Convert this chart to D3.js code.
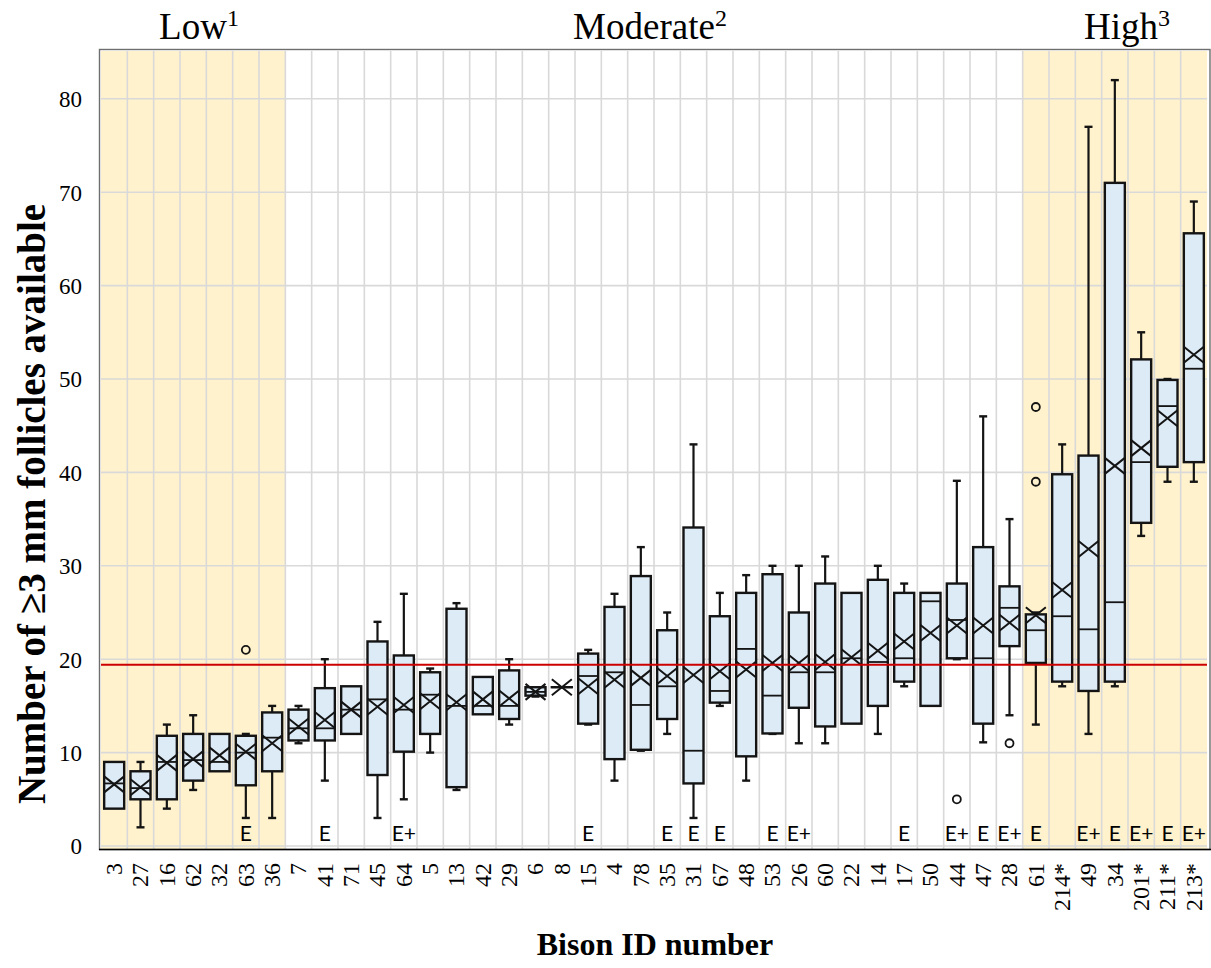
<!DOCTYPE html>
<html>
<head>
<meta charset="utf-8">
<script src="https://cdn.jsdelivr.net/npm/d3@7"></script>
<style>
  html, body { margin: 0; padding: 0; background: #ffffff; }
  svg { display: block; }
</style>
</head>
<body>
<svg id="chart" width="1211" height="968"></svg>
<script>
// ---------- DATA ----------
const categories = ["3","27","16","62","32","63","36","7","41","71","45","64","5","13","42","29","6","8","15","4","78","35","31","67","48","53","26","60","22","14","17","50","44","47","28","61","214*","49","34","201*","211*","213*"];
const whiskerLow  = [4, 2, 4, 6, 8, 3, 3, 11, 7, 12, 3, 5, 10, 6, 14.1, 13, 16, 17, 13, 7, 10.2, 12, 3, 15, 7, 12, 11, 11, 13.1, 12, 17.1, 15, 20, 11.1, 14, 13, 17.1, 12, 17.1, 33.2, 39, 39];
const q1          = [4, 5, 5, 7, 8, 6.5, 8, 11.3, 11.3, 12, 7.6, 10.1, 12, 6.3, 14.1, 13.6, 16.1, 17, 13.1, 9.3, 10.3, 13.6, 6.7, 15.35, 9.6, 12.05, 14.8, 12.8, 13.1, 15, 17.6, 15, 20.1, 13.1, 21.4, 19.6, 17.6, 16.6, 17.6, 34.6, 40.6, 41.1];
const medians     = [6.7, 6.2, 9, 9.2, 9.0, 10, 11.6, 12.6, 12.6, 14.6, 15.7, 14.6, 16.2, 15, 15, 15, 16.5, 17, 18.2, 18.6, 15.1, 17.1, 10.2, 16.6, 21.1, 16.1, 18.6, 18.6, 20.1, 19.7, 20.1, 26.2, 24.2, 20.1, 25.5, 23.1, 24.6, 23.2, 26.1, 41.1, 47.1, 51.1];
const q3          = [9, 8, 11.8, 12, 12, 11.8, 14.3, 14.6, 16.9, 17.1, 21.9, 20.4, 18.6, 25.4, 18.1, 18.8, 17, 17, 20.6, 25.6, 28.9, 23.1, 34.1, 24.6, 27.1, 29.1, 25, 28.1, 27.1, 28.5, 27.1, 27.1, 28.1, 32, 27.8, 24.8, 39.8, 41.8, 71, 52.1, 49.9, 65.6];
const whiskerHigh = [9, 9, 13, 14, 12, 12, 15, 15, 20, 17.1, 24, 27, 19, 26, 18.1, 20, 17, 17, 21, 27, 32, 25, 43, 27.1, 29, 30, 30, 31, 27.1, 30, 28.1, 27.1, 39.1, 46, 35, 25, 43, 77, 82, 55, 50, 69];
const means       = [6.6, 6.3, 8.9, 9.3, 9.7, 10.1, 11, 12.8, 13.5, 14.6, 14.9, 15.1, 15.5, 15.4, 15.7, 15.8, 16.5, 17, 17.1, 17.8, 18, 18.2, 18.3, 18.7, 18.9, 19.6, 19.6, 19.7, 20.2, 20.9, 21.9, 22.8, 23.6, 23.6, 23.9, 24.7, 27.4, 31.8, 40.7, 42.6, 45.8, 52.6];
const outlierIds    = ["63", "44", "28", "61", "61"];
const outlierValues = [21, 5, 11, 39, 47];
const marks = ["","","","","","E","","","E","","","E+","","","","","","","E","","","E","E","E","","E","E+","","","","E","","E+","E","E+","E","","E+","E","E+","E","E+"];
const groupNames  = ["Low", "Moderate", "High"];
const groupSups   = ["1", "2", "3"];
const groupStart  = ["3", "7", "61"];
const groupEnd    = ["36", "28", "213*"];
const groupShaded = [true, false, true];
const yTicks = [0, 10, 20, 30, 40, 50, 60, 70, 80];
const referenceLine = 19.4;

// ---------- LAYOUT ----------
const svg = d3.select("#chart");
const plotLeft = 101, plotRight = 1207, plotTop = 51, plotBottom = 849;
const x = d3.scaleBand().domain(categories).range([plotLeft, plotRight]).padding(0);
const y = d3.scaleLinear().domain([0, 85]).range([846, 846 - 85 * 9.34]);
const bw = x.bandwidth();
const boxW = bw * 0.76;
const serif = "'Liberation Serif', 'Times New Roman', serif";
const sans = "Lato, 'Open Sans', sans-serif";

// background shading
groupNames.forEach((g, i) => {
  if (!groupShaded[i]) return;
  const x0 = x(groupStart[i]);
  const x1 = x(groupEnd[i]) + bw;
  svg.append("rect").attr("x", x0).attr("y", plotTop).attr("width", x1 - x0)
    .attr("height", plotBottom - plotTop).attr("fill", "#fff2cc");
});

// gridlines
const grid = svg.append("g").attr("stroke", "#d9d9d9").attr("stroke-width", 1.6);
yTicks.forEach(t => {
  grid.append("line").attr("x1", plotLeft).attr("x2", plotRight).attr("y1", y(t)).attr("y2", y(t));
});
categories.forEach((c, i) => {
  const xx = x(c);
  if (i === 0) return;
  grid.append("line").attr("x1", xx).attr("x2", xx).attr("y1", plotTop).attr("y2", plotBottom);
});

// frame
svg.append("rect").attr("x", 99.5).attr("y", 49.5).attr("width", 1210 - 99.5).attr("height", 849.5 - 49.5)
  .attr("fill", "none").attr("stroke", "#6e6e6e").attr("stroke-width", 1.4);
svg.append("line").attr("x1", 99).attr("x2", 1211).attr("y1", 849.5).attr("y2", 849.5)
  .attr("stroke", "#000").attr("stroke-width", 1.6);

// boxes
const boxes = svg.append("g");
categories.forEach((c, i) => {
  const cx = x(c) + bw / 2;
  const g = boxes.append("g");
  const stroke = "#141414";
  if (whiskerHigh[i] > q3[i]) {
    g.append("line").attr("x1", cx).attr("x2", cx).attr("y1", y(q3[i])).attr("y2", y(whiskerHigh[i]))
      .attr("stroke", stroke).attr("stroke-width", 2.2);
    g.append("line").attr("x1", cx - 4).attr("x2", cx + 4).attr("y1", y(whiskerHigh[i])).attr("y2", y(whiskerHigh[i]))
      .attr("stroke", stroke).attr("stroke-width", 2.4);
  }
  if (whiskerLow[i] < q1[i]) {
    g.append("line").attr("x1", cx).attr("x2", cx).attr("y1", y(q1[i])).attr("y2", y(whiskerLow[i]))
      .attr("stroke", stroke).attr("stroke-width", 2.2);
    g.append("line").attr("x1", cx - 4).attr("x2", cx + 4).attr("y1", y(whiskerLow[i])).attr("y2", y(whiskerLow[i]))
      .attr("stroke", stroke).attr("stroke-width", 2.4);
  }
  g.append("rect").attr("x", cx - boxW / 2).attr("y", y(q3[i])).attr("width", boxW)
    .attr("height", Math.max(0.01, y(q1[i]) - y(q3[i])))
    .attr("fill", "#ddebf7").attr("stroke", stroke).attr("stroke-width", 2.4);
  g.append("line").attr("x1", cx - boxW / 2).attr("x2", cx + boxW / 2).attr("y1", y(medians[i])).attr("y2", y(medians[i]))
    .attr("stroke", stroke).attr("stroke-width", 1.8);
  const my = y(means[i]);
  g.append("path").attr("d", `M${cx - 10},${my - 8}L${cx + 10},${my + 8}M${cx - 10},${my + 8}L${cx + 10},${my - 8}`)
    .attr("stroke", stroke).attr("stroke-width", 2).attr("fill", "none");
});

// outliers
outlierIds.forEach((c, k) => {
  svg.append("circle").attr("cx", x(c) + bw / 2).attr("cy", y(outlierValues[k])).attr("r", 4)
    .attr("fill", "none").attr("stroke", "#141414").attr("stroke-width", 1.8);
});

// reference line
svg.append("line").attr("x1", plotLeft).attr("x2", plotRight).attr("y1", y(referenceLine)).attr("y2", y(referenceLine))
  .attr("stroke", "#cc0000").attr("stroke-width", 2);

// E marks
categories.forEach((c, i) => {
  if (!marks[i]) return;
  svg.append("text").attr("x", x(c) + bw / 2).attr("y", 841).attr("text-anchor", "middle")
    .attr("font-family", sans).attr("font-size", 21).attr("fill", "#000").text(marks[i]);
});

// y axis
const yAxis = svg.append("g").attr("transform", "translate(99,0)")
  .call(d3.axisLeft(y).tickValues(yTicks).tickSize(0).tickPadding(17));
yAxis.select(".domain").remove();
yAxis.selectAll("text").attr("font-family", serif).attr("font-size", 23).attr("fill", "#000").attr("dy", "0.34em");

// x axis
const xAxis = svg.append("g").attr("transform", "translate(0,849)")
  .call(d3.axisBottom(x).tickSize(0));
xAxis.select(".domain").remove();
xAxis.selectAll("text")
  .attr("font-family", serif).attr("font-size", 24).attr("fill", "#000")
  .attr("transform", "rotate(-90)")
  .attr("x", -14).attr("y", 0).attr("dy", "0.33em")
  .attr("text-anchor", "end");

// axis titles
svg.append("text").attr("transform", "translate(45,504) rotate(-90)").attr("text-anchor", "middle")
  .attr("font-family", serif).attr("font-weight", "bold").attr("font-size", 39).attr("fill", "#000")
  .text("Number of ≥3 mm follicles available");
svg.append("text").attr("x", 655).attr("y", 955).attr("text-anchor", "middle")
  .attr("font-family", serif).attr("font-weight", "bold").attr("font-size", 32).attr("fill", "#000")
  .text("Bison ID number");

// group labels
const groupX = [199, 650, 1127];
groupNames.forEach((g, i) => {
  const t = svg.append("text").attr("x", groupX[i]).attr("y", 39).attr("text-anchor", "middle")
    .attr("font-family", serif).attr("font-size", 37).attr("fill", "#000");
  t.append("tspan").text(g);
  t.append("tspan").attr("font-size", 24).attr("dy", -13).text(groupSups[i]);
});
</script>
</body>
</html>
